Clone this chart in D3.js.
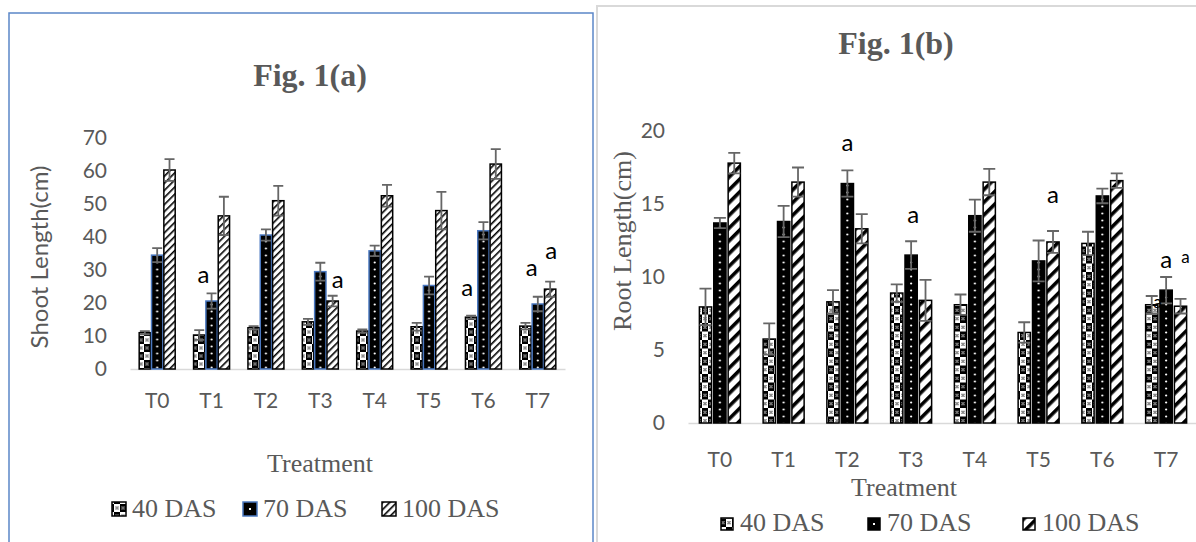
<!DOCTYPE html>
<html>
<head>
<meta charset="utf-8">
<script src="https://cdn.jsdelivr.net/npm/d3@7"></script>
<style>
  html, body { margin: 0; padding: 0; background: #fff; }
  svg { display: block; }
</style>
</head>
<body>
<div id="chart"></div>
<script>
// ---- data ----
const treatments = ["T0", "T1", "T2", "T3", "T4", "T5", "T6", "T7"];
const seriesNames = ["40 DAS", "70 DAS", "100 DAS"];

// Fig. 1(a) shoot length (cm)
const shoot40 = [11.0, 10.3, 12.5, 14.3, 11.5, 12.8, 15.7, 13.0];
const shoot70 = [34.5, 20.6, 40.6, 29.5, 35.8, 25.3, 41.9, 19.7];
const shoot100 = [60.3, 46.4, 51.0, 20.6, 52.5, 48.0, 62.1, 24.2];
const shoot40Err = [0.5, 1.5, 0.5, 0.9, 0.5, 1.2, 0.5, 1.0];
const shoot70Err = [2.1, 2.3, 1.7, 2.7, 1.6, 2.7, 2.6, 2.2];
const shoot100Err = [3.3, 5.8, 4.5, 1.6, 3.3, 5.7, 4.5, 2.3];
const shootTicks = [0, 10, 20, 30, 40, 50, 60, 70];

// Fig. 1(b) root length (cm)
const root40 = [7.95, 5.75, 8.3, 8.9, 8.1, 6.2, 12.3, 8.1];
const root70 = [13.7, 13.8, 16.4, 11.5, 14.2, 11.1, 15.55, 9.1];
const root100 = [17.8, 16.5, 13.3, 8.4, 16.5, 12.4, 16.6, 8.0];
const root40Err = [1.25, 1.07, 0.8, 0.6, 0.7, 0.7, 0.8, 0.6];
const root70Err = [0.35, 1.07, 0.9, 0.95, 1.1, 1.4, 0.5, 0.9];
const root100Err = [0.7, 1.0, 1.0, 1.4, 0.9, 0.75, 0.5, 0.5];
const rootTicks = [0, 5, 10, 15, 20];

// significance letters: category, series it sits near, y value of baseline
const shootLetters = [
  {cat: "T1", ser: "70 DAS", v: 26.0, dx: -8, size: 24},
  {cat: "T3", ser: "100 DAS", v: 24.5, dx: 5, size: 24},
  {cat: "T6", ser: "40 DAS", v: 22.1, dx: -4, size: 24},
  {cat: "T7", ser: "70 DAS", v: 28.2, dx: -6, size: 24},
  {cat: "T7", ser: "100 DAS", v: 33.3, dx: 1, size: 24}
];
const rootLetters = [
  {cat: "T2", ser: "70 DAS", v: 18.6, dx: 0, size: 24},
  {cat: "T3", ser: "70 DAS", v: 13.7, dx: 2, size: 24},
  {cat: "T5", ser: "100 DAS", v: 15.1, dx: 0, size: 24},
  {cat: "T7", ser: "70 DAS", v: 10.6, dx: 0, size: 24},
  {cat: "T7", ser: "100 DAS", v: 10.95, dx: 5, size: 17},
  {cat: "T7", ser: "40 DAS", v: 7.9, dx: 6, size: 17}
];

const W = 1196, H = 542;
const grey = "#595959";

const svg = d3.select("#chart").append("svg")
  .attr("width", W).attr("height", H);
svg.append("rect").attr("width", W).attr("height", H).attr("fill", "#fff");
const defs = svg.append("defs");

// checker with little cross motif (40 DAS)
function checker(id, cw, ch) {
  const p = defs.append("pattern").attr("id", id)
    .attr("patternUnits", "userSpaceOnUse")
    .attr("width", cw * 2).attr("height", ch * 2);
  p.append("rect").attr("width", cw * 2).attr("height", ch * 2).attr("fill", "#fff");
  p.append("rect").attr("x", cw).attr("width", cw).attr("height", ch).attr("fill", "#000");
  p.append("rect").attr("y", ch).attr("width", cw).attr("height", ch).attr("fill", "#000");
  [[0, 0, "#000"], [cw, ch, "#000"], [cw, 0, "#fff"], [0, ch, "#fff"]].forEach(([ox, oy, c]) => {
    const cx = ox + cw / 2 - 1.5, cy = oy + ch / 2 - 1.5;
    [[0, 0], [2, 0], [1, 1], [0, 2], [2, 2]].forEach(([dx, dy]) => {
      p.append("rect").attr("x", cx + dx).attr("y", cy + dy)
        .attr("width", 1).attr("height", 1).attr("fill", c);
    });
  });
}

// diagonal stripes (100 DAS)
function stripes(id, gap, sw) {
  const p = defs.append("pattern").attr("id", id)
    .attr("patternUnits", "userSpaceOnUse")
    .attr("width", gap).attr("height", gap)
    .attr("patternTransform", "rotate(45)");
  p.append("rect").attr("width", gap).attr("height", gap).attr("fill", "#fff");
  p.append("rect").attr("width", sw).attr("height", gap).attr("fill", "#000");
}

// black with a column of white dots (70 DAS), aligned to the bars
function dots(id, x0, w, bw, h) {
  const p = defs.append("pattern").attr("id", id)
    .attr("patternUnits", "userSpaceOnUse")
    .attr("x", x0).attr("y", 0).attr("width", w).attr("height", h);
  p.append("rect").attr("width", w).attr("height", h).attr("fill", "#000");
  p.append("circle").attr("cx", bw / 2).attr("cy", h / 2).attr("r", 1.1).attr("fill", "#fff");
}

checker("chkA", 6, 8);
checker("chkB", 6, 8.5);
stripes("strA", 5, 1.6);
stripes("strB", 9, 3.6);

function drawPanel(cfg) {
  const g = svg.append("g");

  // frame
  g.append("rect")
    .attr("x", cfg.frame[0]).attr("y", cfg.frame[1])
    .attr("width", cfg.frame[2]).attr("height", cfg.frame[3])
    .attr("fill", "none").attr("stroke", cfg.frameColor).attr("stroke-width", cfg.frameWidth);

  const x0 = d3.scaleBand().domain(treatments).range(cfg.xRange);
  const x1 = d3.scaleBand().domain(seriesNames).range([0, cfg.groupW]).paddingInner(cfg.barGap);
  const off = (x0.step() - cfg.groupW) / 2;
  const y = d3.scaleLinear().domain([0, d3.max(cfg.ticks)]).range(cfg.yRange);
  const bw = x1.bandwidth();
  const barX = (cat, ser) => x0(cat) + off + x1(ser);

  dots(cfg.id + "dots", barX(treatments[0], "70 DAS"), x0.step(), bw, cfg.dotStep);
  const fills = {
    "40 DAS": `url(#${cfg.chk})`,
    "70 DAS": `url(#${cfg.id}dots)`,
    "100 DAS": `url(#${cfg.str})`
  };
  const strokes = {"40 DAS": "#000", "70 DAS": cfg.stroke70, "100 DAS": "#000"};

  // title
  g.append("text")
    .attr("x", cfg.titlePos[0]).attr("y", cfg.titlePos[1])
    .attr("text-anchor", "middle")
    .attr("font-family", "'Liberation Serif', 'Times New Roman', serif")
    .attr("font-weight", "bold").attr("font-size", 32)
    .attr("fill", grey)
    .text(cfg.title);

  // y axis labels
  const ya = g.append("g")
    .attr("transform", `translate(${cfg.xRange[0]},0)`)
    .call(d3.axisLeft(y).tickValues(cfg.ticks).tickSize(0).tickPadding(cfg.yPad));
  ya.select(".domain").remove();
  ya.selectAll("text").attr("font-family", "Lato, sans-serif").attr("font-size", 21).attr("fill", grey);

  // x axis
  const xa = g.append("g")
    .attr("transform", `translate(0,${cfg.yRange[0]})`)
    .call(d3.axisBottom(x0).tickSize(0).tickSizeOuter(0).tickPadding(cfg.xPad));
  xa.select(".domain").attr("stroke", "#d9d9d9").attr("stroke-width", 1.5);
  xa.selectAll("text").attr("font-family", "Lato, sans-serif").attr("font-size", 21).attr("fill", grey);

  // axis titles
  g.append("text")
    .attr("transform", `translate(${cfg.yTitlePos[0]},${cfg.yTitlePos[1]}) rotate(-90)`)
    .attr("text-anchor", "middle").attr("dominant-baseline", "central")
    .attr("font-family", cfg.yTitleFont).attr("font-size", cfg.yTitleSize)
    .attr("fill", grey)
    .text(cfg.yTitle);
  g.append("text")
    .attr("x", cfg.xTitlePos[0]).attr("y", cfg.xTitlePos[1])
    .attr("text-anchor", "middle")
    .attr("font-family", "'Liberation Serif', 'Times New Roman', serif").attr("font-size", 26)
    .attr("fill", grey)
    .text("Treatment");

  // bars
  const rows = [];
  treatments.forEach((t, i) => {
    seriesNames.forEach((s, j) => {
      rows.push({cat: t, ser: s, v: cfg.values[j][i], e: cfg.errors[j][i]});
    });
  });

  g.append("g").selectAll("rect")
    .data(rows)
    .join("rect")
      .attr("x", d => barX(d.cat, d.ser))
      .attr("y", d => y(d.v))
      .attr("width", bw)
      .attr("height", d => y(0) - y(d.v))
      .attr("fill", d => fills[d.ser])
      .attr("stroke", d => strokes[d.ser])
      .attr("stroke-width", 1.5);

  // error bars
  const eb = g.append("g").attr("stroke", "#666").attr("stroke-width", 1.8).attr("fill", "none");
  eb.selectAll("path")
    .data(rows)
    .join("path")
      .attr("d", d => {
        const cx = barX(d.cat, d.ser) + bw / 2;
        const hw = cfg.capW / 2;
        const t = y(d.v + d.e), b = y(d.v - d.e);
        return `M${cx},${t}V${b}M${cx - hw},${t}H${cx + hw}M${cx - hw},${b}H${cx + hw}`;
      });

  // letters
  g.append("g").selectAll("text")
    .data(cfg.letters)
    .join("text")
      .attr("x", d => barX(d.cat, d.ser) + bw / 2 + d.dx)
      .attr("y", d => y(d.v))
      .attr("text-anchor", "middle")
      .attr("font-family", "Lato, sans-serif")
      .attr("font-size", d => d.size)
      .attr("fill", "#000")
      .text("a");

  // legend
  const lg = g.append("g");
  seriesNames.forEach((s, j) => {
    const lx = cfg.legendX[j];
    const sz = cfg.iconSize;
    const top = cfg.legendY - sz - 1;
    if (s === "70 DAS") {
      lg.append("rect").attr("x", lx).attr("y", top).attr("width", sz).attr("height", sz)
        .attr("fill", "#000").attr("stroke", cfg.stroke70).attr("stroke-width", 1.5);
      lg.append("rect").attr("x", lx + sz / 2 - 1).attr("y", top + sz / 2 - 1)
        .attr("width", 2).attr("height", 2).attr("fill", "#fff");
    } else {
      lg.append("rect").attr("x", lx).attr("y", top).attr("width", sz).attr("height", sz)
        .attr("fill", fills[s]).attr("stroke", "#000").attr("stroke-width", 1.5);
    }
    lg.append("text")
      .attr("x", lx + sz + cfg.legendGap).attr("y", cfg.legendY)
      .attr("font-family", "'Liberation Serif', 'Times New Roman', serif").attr("font-size", 26)
      .attr("fill", grey)
      .text(s);
  });
}

drawPanel({
  id: "a",
  frame: [9, 13, 584, 560], frameColor: "#5b87c8", frameWidth: 1.5,
  title: "Fig. 1(a)", titlePos: [310, 86],
  xRange: [130, 565], yRange: [369, 138], groupW: 36, barGap: 0.08,
  ticks: shootTicks, yPad: 23, xPad: 24,
  values: [shoot40, shoot70, shoot100], errors: [shoot40Err, shoot70Err, shoot100Err],
  chk: "chkA", str: "strA", dotStep: 7, stroke70: "#4a78c0", capW: 10,
  yTitle: "Shoot Length(cm)", yTitlePos: [38, 257], yTitleFont: "Lato, sans-serif", yTitleSize: 24,
  xTitlePos: [320, 472],
  letters: shootLetters,
  legendX: [112, 243, 382], legendY: 517, iconSize: 14, legendGap: 6
});

drawPanel({
  id: "b",
  frame: [597, 6, 620, 560], frameColor: "#d9d9d9", frameWidth: 2,
  title: "Fig. 1(b)", titlePos: [896, 54],
  xRange: [688, 1198], yRange: [423, 131], groupW: 41, barGap: 0.15,
  ticks: rootTicks, yPad: 23, xPad: 29,
  values: [root40, root70, root100], errors: [root40Err, root70Err, root100Err],
  chk: "chkB", str: "strB", dotStep: 7, stroke70: "#000", capW: 12,
  yTitle: "Root Length(cm)", yTitlePos: [622, 241],
  yTitleFont: "'Liberation Serif', 'Times New Roman', serif", yTitleSize: 26,
  xTitlePos: [904, 496],
  letters: rootLetters,
  legendX: [721, 868, 1023], legendY: 531, iconSize: 12, legendGap: 7
});
</script>
</body>
</html>
